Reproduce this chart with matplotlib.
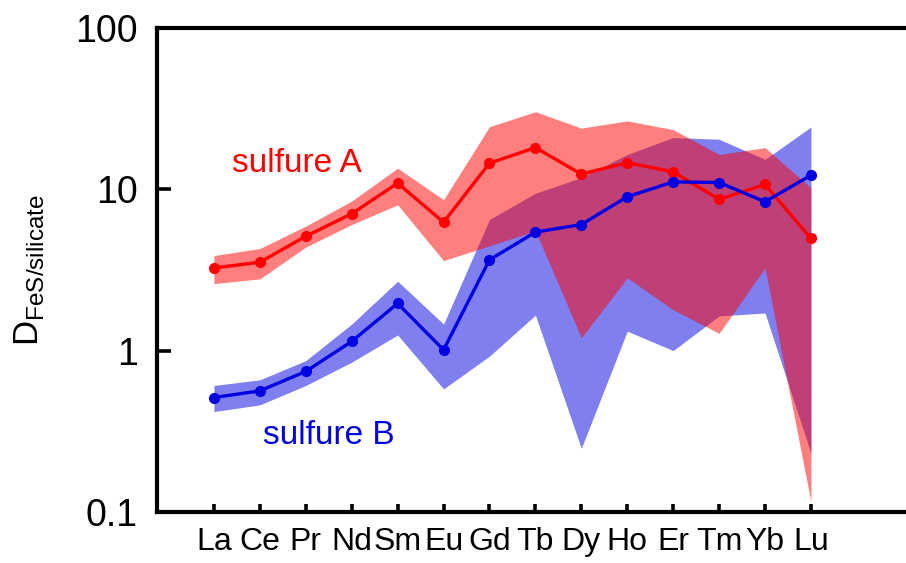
import matplotlib
matplotlib.use('Agg')
import matplotlib.pyplot as plt
import numpy as np

plt.rcParams['font.family'] = ['Liberation Sans', 'DejaVu Sans']
plt.rcParams['mathtext.fontset'] = 'custom'
plt.rcParams['mathtext.rm'] = 'Liberation Sans'

# REE partition coefficients FeS/silicate
elements = ['La', 'Ce', 'Pr', 'Nd', 'Sm', 'Eu', 'Gd', 'Tb', 'Dy', 'Ho', 'Er', 'Tm', 'Yb', 'Lu']

# sulfure A (red): mean, band upper, band lower
a_mean = [3.25, 3.53, 5.11, 7.04, 10.9, 6.24, 14.5, 18.1, 12.4, 14.6, 12.8, 8.65, 10.7, 4.95]
a_high = [3.88, 4.29, 5.91, 8.45, 13.5, 8.61, 24.4, 30.2, 23.9, 26.5, 23.4, 16.4, 18.1, 10.2]
a_low = [2.60, 2.78, 4.38, 6.04, 8.01, 3.61, 4.46, 5.52, 1.20, 2.82, 1.79, 1.28, 3.25, 0.116]

# sulfure B (blue)
b_mean = [0.512, 0.563, 0.743, 1.14, 1.96, 1.01, 3.65, 5.42, 6.04, 8.98, 11.1, 11.0, 8.36, 12.2]
b_high = [0.608, 0.659, 0.867, 1.46, 2.69, 1.46, 6.49, 9.44, 11.8, 16.4, 20.9, 20.4, 15.3, 24.3]
b_low = [0.419, 0.461, 0.608, 0.848, 1.25, 0.579, 0.924, 1.66, 0.248, 1.32, 1.00, 1.64, 1.71, 0.231]

red = '#ff0000'
blue = '#0000e1'

fig = plt.figure(figsize=(9.06, 5.63), dpi=100)
ax = fig.add_axes([0.1738, 0.0906, 0.848, 0.860])

x = np.arange(len(elements))

ax.fill_between(x, b_low, b_high, color=blue, alpha=0.5, linewidth=0)
ax.fill_between(x, a_low, a_high, color=red, alpha=0.5, linewidth=0)
ax.plot(x, a_mean, color=red, lw=2.4, marker='o', ms=7)
ax.plot(x, b_mean, color=blue, lw=2.4, marker='o', ms=7)

ax.set_yscale('log')
ax.set_ylim(0.1, 100)
ax.set_xlim(-1.23, 15.5)

ax.set_yticks([0.1, 1, 10, 100])
ax.set_yticklabels(['0.1', '1', '10', '100'])
ax.yaxis.set_minor_locator(matplotlib.ticker.NullLocator())
ax.set_xticks(x)
ax.set_xticklabels(elements)

for lab in ax.get_yticklabels():
    lab.set_fontsize(27)
for lab in ax.get_xticklabels():
    lab.set_fontsize(23)

ax.tick_params(axis='y', direction='in', length=10, width=2.6, pad=14)
ax.tick_params(axis='x', direction='in', length=5.5, width=2.6, pad=11)

for s in ['left', 'top', 'bottom']:
    ax.spines[s].set_linewidth(3)
ax.spines['right'].set_visible(False)

ax.set_ylabel(r'D$_{\mathrm{FeS/silicate}}$', fontsize=25, labelpad=21)

ax.text(0.0966, 0.7027, 'sulfure A', color=red, fontsize=24,
        transform=ax.transAxes, ha='left', va='baseline')
ax.text(0.137, 0.1404, 'sulfure B', color=blue, fontsize=24,
        transform=ax.transAxes, ha='left', va='baseline')

fig.savefig('out.png', dpi=100)
